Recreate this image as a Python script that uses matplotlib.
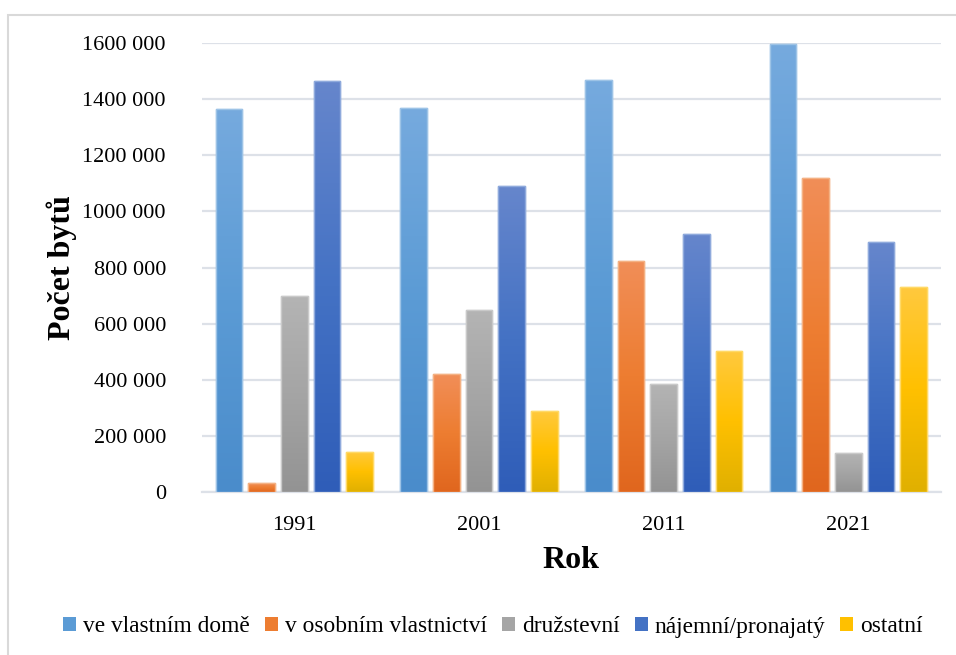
import numpy as np
import matplotlib
matplotlib.use("Agg")
import matplotlib.pyplot as plt
from matplotlib.patches import Patch, Rectangle
from matplotlib.colors import LinearSegmentedColormap, to_rgb

plt.rcParams['font.family'] = ['Liberation Serif', 'DejaVu Serif']

years = ['1991', '2001', '2011', '2021']
series_names = ['ve vlastním domě', 'v osobním vlastnictví', 'družstevní',
                'nájemní/pronajatý', 'ostatní']
ve_vlastnim_dome = [1365000, 1367000, 1467000, 1595000]
v_osobnim_vlastnictvi = [32000, 420000, 823000, 1120000]
druzstevni = [699000, 649000, 385000, 141000]
najemni = [1464000, 1089000, 919000, 890000]
ostatni = [145000, 289000, 502000, 730000]
series_values = [ve_vlastnim_dome, v_osobnim_vlastnictvi, druzstevni, najemni, ostatni]

base_colors = ['#5B9BD5', '#ED7D31', '#A5A5A5', '#4472C4', '#FFC000']
top_colors = ['#76AADE', '#F18E58', '#B4B4B4', '#6686CC', '#FFC93E']
bottom_colors = ['#4A8CCB', '#E0661E', '#939393', '#2F5DB8', '#E0B000']

fig = plt.figure(figsize=(9.56, 6.55), dpi=100)
ax = fig.add_axes([202 / 956, 1 - 492.3 / 655, (940.7 - 202) / 956, (492.3 - 43) / 655])

# outer chart frame
fig.add_artist(Rectangle((8 / 956, -0.05), 1.1, 1 - 15 / 655 + 0.05,
                         transform=fig.transFigure, fill=False,
                         edgecolor='#D9D9D9', linewidth=1.5))

x = np.arange(len(years))
slot = 0.177
bar_w = 0.145
grad = np.linspace(0, 1, 256).reshape(-1, 1)

for i, (vals, name) in enumerate(zip(series_values, series_names)):
    cmap = LinearSegmentedColormap.from_list(
        name, [bottom_colors[i], base_colors[i], top_colors[i]])
    edge = tuple(min(1, c * 0.6 + 0.4) for c in to_rgb(base_colors[i]))
    bars = ax.bar(x + (i - 2) * slot, vals, width=bar_w, color=base_colors[i],
                  edgecolor=edge, linewidth=1.0, zorder=3, label=name)
    for b in bars:
        bx, by = b.get_x(), b.get_y()
        bw, bh = b.get_width(), b.get_height()
        im = ax.imshow(grad, extent=[bx, bx + bw, by, by + bh], origin='lower',
                       aspect='auto', cmap=cmap, zorder=3.5, interpolation='bilinear')
        im.set_clip_path(b)
        ax.add_patch(Rectangle((bx, by), bw, bh, fill=False, edgecolor=edge,
                               linewidth=1.0, zorder=4))

ax.set_xlim(-0.5, 3.5)
ax.set_ylim(0, 1600000)
ax.set_aspect('auto')

yticks = np.arange(0, 1600001, 200000)
def fmt(v):
    v = int(v)
    if v == 0:
        return '0'
    return f"{v // 1000} {v % 1000:03d}"
ax.set_yticks(yticks)
ax.set_yticklabels([fmt(v) for v in yticks])
ax.set_xticks(x)
ax.set_xticklabels(years)

ax.tick_params(axis='both', length=0, labelsize=16, colors='#000000')
ax.tick_params(axis='y', pad=26)
ax.tick_params(axis='x', pad=17)

ax.grid(axis='y', color='#DDE1E8', linewidth=1.6, zorder=0)
ax.set_axisbelow(True)
for side in ['top', 'right', 'left']:
    ax.spines[side].set_visible(False)
ax.spines['bottom'].set_color('#DDE1E8')
ax.spines['bottom'].set_linewidth(1.6)

ax.set_xlabel('Rok', fontsize=23, fontweight='bold', labelpad=8)
ax.set_ylabel('Počet bytů', fontsize=23, fontweight='bold', labelpad=4)

handles = [Patch(facecolor=c, edgecolor='none') for c in base_colors]
fig.legend(handles, series_names, loc='center', ncol=5,
           bbox_to_anchor=(493 / 956, 1 - 627 / 655), frameon=False,
           prop={'family': ['Liberation Serif'], 'size': 16.8},
           handlelength=0.55, handleheight=0.55,
           handletextpad=0.3, columnspacing=0.65)

fig.savefig('out.png', dpi=100)
